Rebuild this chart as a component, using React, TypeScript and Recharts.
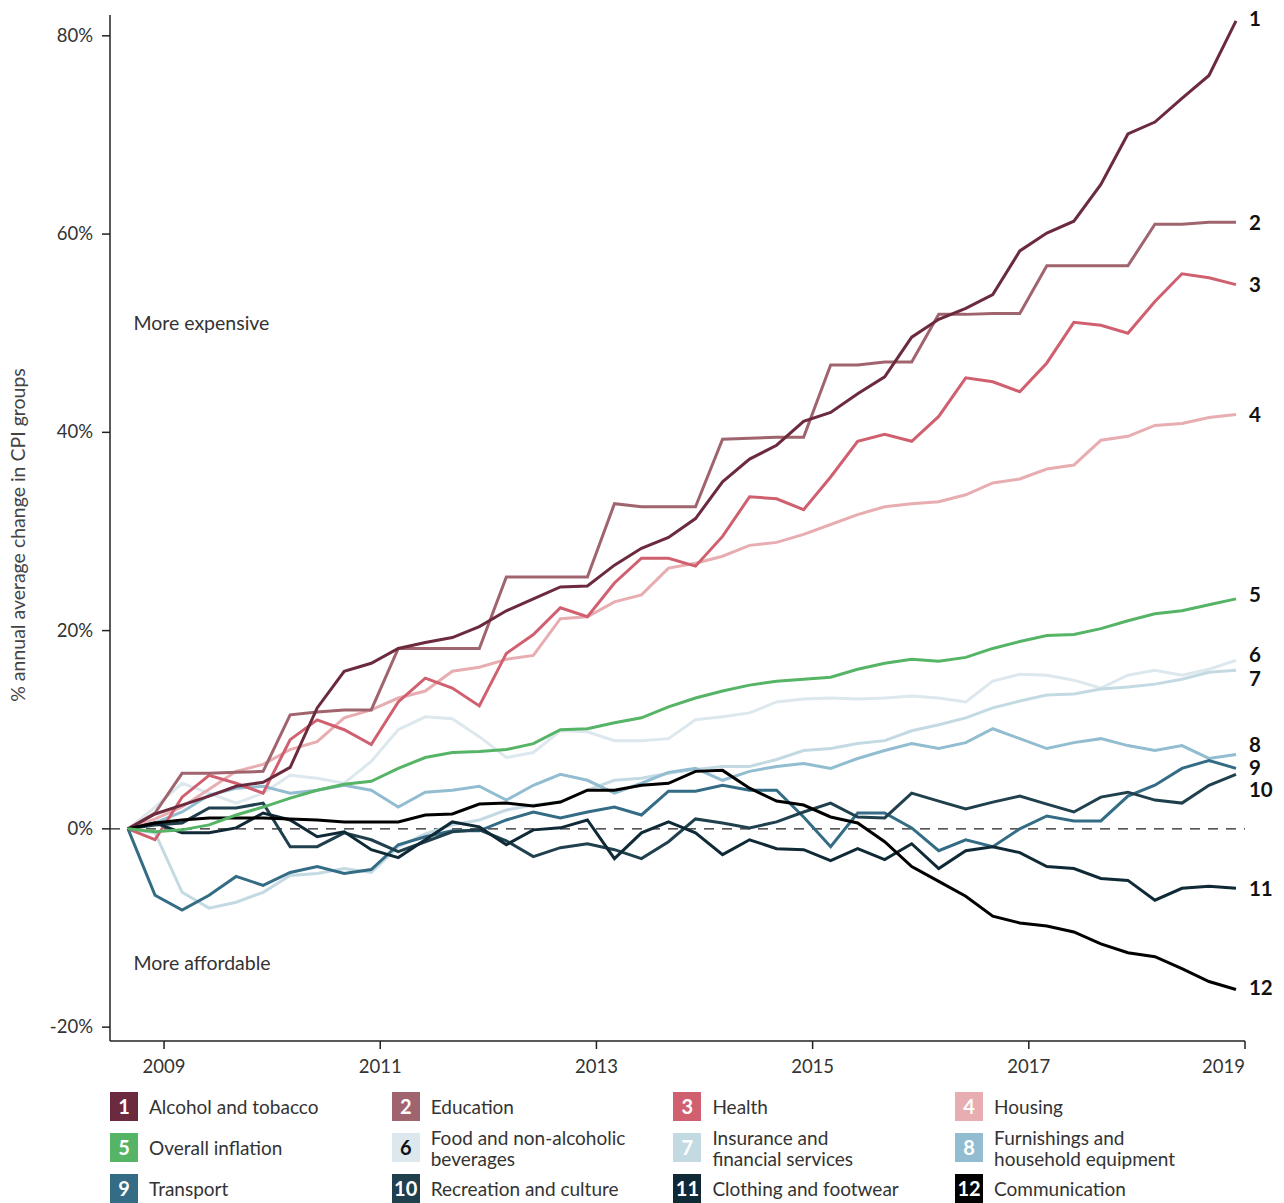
import React from 'react';
import { LineChart, Line, XAxis, YAxis, ReferenceLine, ReferenceDot } from 'recharts';

const FONT = 'Lato, "Open Sans", sans-serif';

// quarterly observations, Sep 2008 to Dec 2018
const quarters = [
  'Sep 2008', 'Dec 2008',
  'Mar 2009', 'Jun 2009', 'Sep 2009', 'Dec 2009',
  'Mar 2010', 'Jun 2010', 'Sep 2010', 'Dec 2010',
  'Mar 2011', 'Jun 2011', 'Sep 2011', 'Dec 2011',
  'Mar 2012', 'Jun 2012', 'Sep 2012', 'Dec 2012',
  'Mar 2013', 'Jun 2013', 'Sep 2013', 'Dec 2013',
  'Mar 2014', 'Jun 2014', 'Sep 2014', 'Dec 2014',
  'Mar 2015', 'Jun 2015', 'Sep 2015', 'Dec 2015',
  'Mar 2016', 'Jun 2016', 'Sep 2016', 'Dec 2016',
  'Mar 2017', 'Jun 2017', 'Sep 2017', 'Dec 2017',
  'Mar 2018', 'Jun 2018', 'Sep 2018', 'Dec 2018',
];

const alcoholTobacco = [0, 1.5, 2.4, 3.3, 4.3, 4.7, 6.2, 12.2, 15.9, 16.7, 18.2, 18.8, 19.3, 20.4, 22.0, 23.2, 24.4, 24.5, 26.6, 28.3, 29.4, 31.3, 35.0, 37.3, 38.7, 41.1, 42.0, 43.9, 45.6, 49.6, 51.4, 52.5, 53.9, 58.3, 60.1, 61.3, 65.0, 70.1, 71.3, 73.7, 76.0, 81.5];
const education = [0, 1.6, 5.6, 5.6, 5.7, 5.8, 11.5, 11.8, 12.0, 12.0, 18.2, 18.2, 18.2, 18.2, 25.4, 25.4, 25.4, 25.4, 32.8, 32.5, 32.5, 32.5, 39.3, 39.4, 39.5, 39.5, 46.8, 46.8, 47.1, 47.1, 51.9, 51.9, 52.0, 52.0, 56.8, 56.8, 56.8, 56.8, 61.0, 61.0, 61.2, 61.2];
const health = [0, -1.1, 3.2, 5.4, 4.6, 3.6, 9.0, 11.0, 10.0, 8.5, 12.8, 15.2, 14.2, 12.4, 17.7, 19.6, 22.3, 21.4, 24.8, 27.3, 27.3, 26.5, 29.5, 33.5, 33.3, 32.2, 35.5, 39.1, 39.8, 39.1, 41.6, 45.5, 45.1, 44.1, 47.0, 51.1, 50.8, 50.0, 53.2, 56.0, 55.6, 54.9];
const housing = [0, 1.0, 2.2, 4.0, 5.8, 6.5, 8.0, 8.8, 11.2, 12.0, 13.2, 13.9, 15.9, 16.3, 17.1, 17.5, 21.2, 21.4, 22.9, 23.6, 26.3, 26.8, 27.5, 28.6, 28.9, 29.7, 30.7, 31.7, 32.5, 32.8, 33.0, 33.7, 34.9, 35.3, 36.3, 36.7, 39.2, 39.6, 40.7, 40.9, 41.5, 41.8];
const overallInflation = [0, -0.3, -0.1, 0.4, 1.4, 2.2, 3.1, 3.9, 4.5, 4.8, 6.1, 7.2, 7.7, 7.8, 8.0, 8.6, 10.0, 10.1, 10.7, 11.2, 12.3, 13.2, 13.9, 14.5, 14.9, 15.1, 15.3, 16.1, 16.7, 17.1, 16.9, 17.3, 18.2, 18.9, 19.5, 19.6, 20.2, 21.0, 21.7, 22.0, 22.6, 23.2];
const food = [0, 2.2, 4.6, 3.6, 2.6, 3.6, 5.4, 5.1, 4.6, 6.8, 10.0, 11.3, 11.1, 9.3, 7.2, 7.7, 9.9, 9.8, 8.9, 8.9, 9.1, 11.0, 11.3, 11.7, 12.8, 13.1, 13.2, 13.1, 13.2, 13.4, 13.2, 12.8, 14.9, 15.6, 15.5, 15.0, 14.2, 15.5, 16.0, 15.5, 16.1, 17.0];
const insurance = [0, -0.4, -6.4, -8.0, -7.4, -6.4, -4.7, -4.5, -4.0, -4.4, -1.8, -0.5, 0.4, 0.9, 1.9, 2.4, 2.7, 3.9, 4.9, 5.1, 5.6, 6.0, 6.3, 6.3, 7.0, 7.9, 8.1, 8.6, 8.9, 9.9, 10.5, 11.2, 12.2, 12.9, 13.5, 13.6, 14.1, 14.3, 14.6, 15.1, 15.8, 16.0];
const furnishings = [0, 0.6, 1.7, 3.4, 4.1, 4.3, 3.6, 3.9, 4.4, 3.9, 2.2, 3.7, 3.9, 4.3, 2.9, 4.4, 5.5, 4.9, 3.6, 4.6, 5.7, 6.1, 4.9, 5.8, 6.3, 6.6, 6.1, 7.1, 7.9, 8.6, 8.1, 8.7, 10.1, 9.1, 8.1, 8.7, 9.1, 8.4, 7.9, 8.4, 7.1, 7.5];
const transport = [0, -6.7, -8.2, -6.7, -4.8, -5.7, -4.4, -3.8, -4.5, -4.1, -1.6, -0.8, -0.2, -0.2, 0.9, 1.7, 1.1, 1.7, 2.2, 1.4, 3.8, 3.8, 4.4, 3.9, 3.9, 1.2, -1.8, 1.6, 1.6, 0.1, -2.2, -1.1, -1.8, 0.0, 1.3, 0.8, 0.8, 3.3, 4.4, 6.1, 6.9, 6.1];
const recreation = [0, 0.4, 0.6, 2.1, 2.1, 2.6, -1.8, -1.8, -0.4, -1.1, -2.3, -1.3, -0.3, -0.1, -1.2, -2.8, -1.9, -1.5, -2.1, -3.0, -1.3, 1.0, 0.6, 0.1, 0.7, 1.7, 2.6, 1.2, 1.1, 3.6, 2.8, 2.0, 2.7, 3.3, 2.5, 1.7, 3.2, 3.7, 2.9, 2.6, 4.4, 5.5];
const clothing = [0, 0.6, -0.4, -0.4, 0.1, 1.6, 0.9, -0.8, -0.3, -2.1, -2.9, -1.1, 0.7, 0.2, -1.6, -0.1, 0.1, 0.9, -3.0, -0.4, 0.7, -0.4, -2.6, -1.1, -2.0, -2.1, -3.2, -2.0, -3.1, -1.5, -4.0, -2.2, -1.8, -2.4, -3.8, -4.0, -5.0, -5.2, -7.2, -6.0, -5.8, -6.0];
const communication = [0, 0.6, 0.9, 1.1, 1.1, 1.1, 1.0, 0.9, 0.7, 0.7, 0.7, 1.4, 1.5, 2.5, 2.6, 2.3, 2.7, 3.9, 3.9, 4.4, 4.6, 5.8, 5.9, 4.1, 2.8, 2.4, 1.2, 0.6, -1.3, -3.8, -5.3, -6.8, -8.8, -9.5, -9.8, -10.4, -11.6, -12.5, -12.9, -14.1, -15.4, -16.2];

const yTicks = [-20, 0, 20, 40, 60, 80];
const xTicks = [2009, 2011, 2013, 2015, 2017, 2019];

const series = [
  { key: 's1', name: 'Alcohol and tobacco', color: '#6b2a3d', values: alcoholTobacco },
  { key: 's2', name: 'Education', color: '#a0646e', values: education },
  { key: 's3', name: 'Health', color: '#d0606f', values: health },
  { key: 's4', name: 'Housing', color: '#e7adb1', values: housing },
  { key: 's5', name: 'Overall inflation', color: '#55b466', values: overallInflation },
  { key: 's6', name: ['Food and non-alcoholic', 'beverages'], color: '#dde8ee', values: food },
  { key: 's7', name: ['Insurance and', 'financial services'], color: '#c4dae3', values: insurance },
  { key: 's8', name: ['Furnishings and', 'household equipment'], color: '#92bdd0', values: furnishings },
  { key: 's9', name: 'Transport', color: '#336c84', values: transport },
  { key: 's10', name: 'Recreation and culture', color: '#20404e', values: recreation },
  { key: 's11', name: 'Clothing and footwear', color: '#0f2a36', values: clothing },
  { key: 's12', name: 'Communication', color: '#000000', values: communication },
];

// vertical nudges for the end labels so they don't collide
const labelNudge = [-2, 0, 0, 0, -4, -6, 8, -10, -1, 15, 0, -2];
const drawOrder = [5, 6, 7, 3, 2, 1, 0, 8, 9, 10, 11, 4];

const monthIndex: Record<string, number> = { Mar: 2, Jun: 5, Sep: 8, Dec: 11 };
const toYear = (q: string) => {
  const [m, y] = q.split(' ');
  return Number(y) + monthIndex[m] / 12;
};

const data = quarters.map((q, i) => {
  const row: Record<string, number | string> = { quarter: q, t: toYear(q) };
  series.forEach((s) => {
    row[s.key] = s.values[i];
  });
  return row;
});

const XTick = (props: any) => {
  const { x, y, payload } = props;
  const last = payload.value === xTicks[xTicks.length - 1];
  return (
    <text x={x} y={y + 24} textAnchor={last ? 'end' : 'middle'} fontSize={18.5} fill="#333" fontFamily={FONT}>
      {payload.value}
    </text>
  );
};

const YTick = (props: any) => {
  const { x, y, payload } = props;
  return (
    <text x={x - 9} y={y + 6} textAnchor="end" fontSize={18.5} fill="#333" fontFamily={FONT}>
      {payload.value}%
    </text>
  );
};

const YTitle = (props: any) => {
  const { viewBox } = props;
  const cx = viewBox.x + 18;
  const cy = viewBox.y + viewBox.height / 2 + 7;
  return (
    <text
      x={cx}
      y={cy}
      transform={`rotate(-90 ${cx} ${cy})`}
      textAnchor="middle"
      dy="0.35em"
      fontSize={19.5}
      fill="#444"
      fontFamily={FONT}
    >
      % annual average change in CPI groups
    </text>
  );
};

const endLabel = (n: number) => (props: any) => {
  const { x, y, index } = props;
  if (index !== quarters.length - 1) return null;
  return (
    <text x={x + 13} y={y + labelNudge[n - 1]} dy="0.36em" fontSize={20.5} fontWeight={700} fill="#111" fontFamily={FONT}>
      {n}
    </text>
  );
};

const App = () => {
  return (
    <div style={{ position: 'relative', width: 1284, height: 1203, margin: '-8px 0 0 -8px', fontFamily: FONT }}>
      <LineChart width={1284} height={1083} data={data} margin={{ top: 15, right: 39, bottom: 0, left: 0 }}>
        <XAxis
          dataKey="t"
          type="number"
          domain={[2008.5, 2019.0]}
          ticks={xTicks}
          allowDataOverflow
          height={42}
          tickSize={8}
          tickMargin={0}
          tick={<XTick />}
          axisLine={{ stroke: '#222', strokeWidth: 1.5 }}
          tickLine={{ stroke: '#222', strokeWidth: 1.5 }}
        />
        <YAxis
          type="number"
          domain={[-21.4, 82.1]}
          ticks={yTicks}
          allowDataOverflow
          width={110}
          tickSize={8}
          tickMargin={0}
          tick={<YTick />}
          axisLine={{ stroke: '#222', strokeWidth: 1.5 }}
          tickLine={{ stroke: '#222', strokeWidth: 1.5 }}
          label={{ position: 'insideLeft', content: (p: any) => <YTitle {...p} /> }}
        />
        <ReferenceLine y={0} stroke="#222" strokeWidth={1.2} strokeDasharray="10 8" />
        <ReferenceDot
          x={2008.67}
          y={51}
          r={0}
          fill="none"
          stroke="none"
          label={{ value: 'More expensive', position: 'right', offset: 5, fontSize: 19.5, fill: '#333', fontFamily: FONT }}
        />
        <ReferenceDot
          x={2008.67}
          y={-13.5}
          r={0}
          fill="none"
          stroke="none"
          label={{ value: 'More affordable', position: 'right', offset: 5, fontSize: 19.5, fill: '#333', fontFamily: FONT }}
        />
        {drawOrder.map((i) => {
          const s = series[i];
          return (
            <Line
              key={s.key}
              dataKey={s.key}
              type="linear"
              stroke={s.color}
              strokeWidth={3}
              dot={false}
              activeDot={false}
              isAnimationActive={false}
              label={endLabel(i + 1)}
            />
          );
        })}
      </LineChart>
      <div style={{ position: 'absolute', left: 110, top: 1092 }}>
        {series.map((s, i) => {
          const lines = Array.isArray(s.name) ? s.name : [s.name];
          return (
            <div
              key={s.key}
              style={{ position: 'absolute', left: (i % 4) * 281.7, top: Math.floor(i / 4) * 41, width: 280, height: 29 }}
            >
              <div
                style={{
                  position: 'absolute',
                  left: 0,
                  top: 0,
                  width: 28,
                  height: 29,
                  background: s.color,
                  color: i === 5 ? '#111' : '#fff',
                  fontWeight: 700,
                  fontSize: 20,
                  lineHeight: '29px',
                  textAlign: 'center',
                }}
              >
                {i + 1}
              </div>
              <div
                style={{
                  position: 'absolute',
                  left: 39,
                  top: 0,
                  height: 29,
                  display: 'flex',
                  flexDirection: 'column',
                  justifyContent: 'center',
                  fontSize: 19,
                  lineHeight: '21px',
                  color: '#333',
                  whiteSpace: 'nowrap',
                }}
              >
                {lines.map((l) => (
                  <div key={l} style={{ height: 21 }}>
                    {l}
                  </div>
                ))}
              </div>
            </div>
          );
        })}
      </div>
    </div>
  );
};

export default App;
